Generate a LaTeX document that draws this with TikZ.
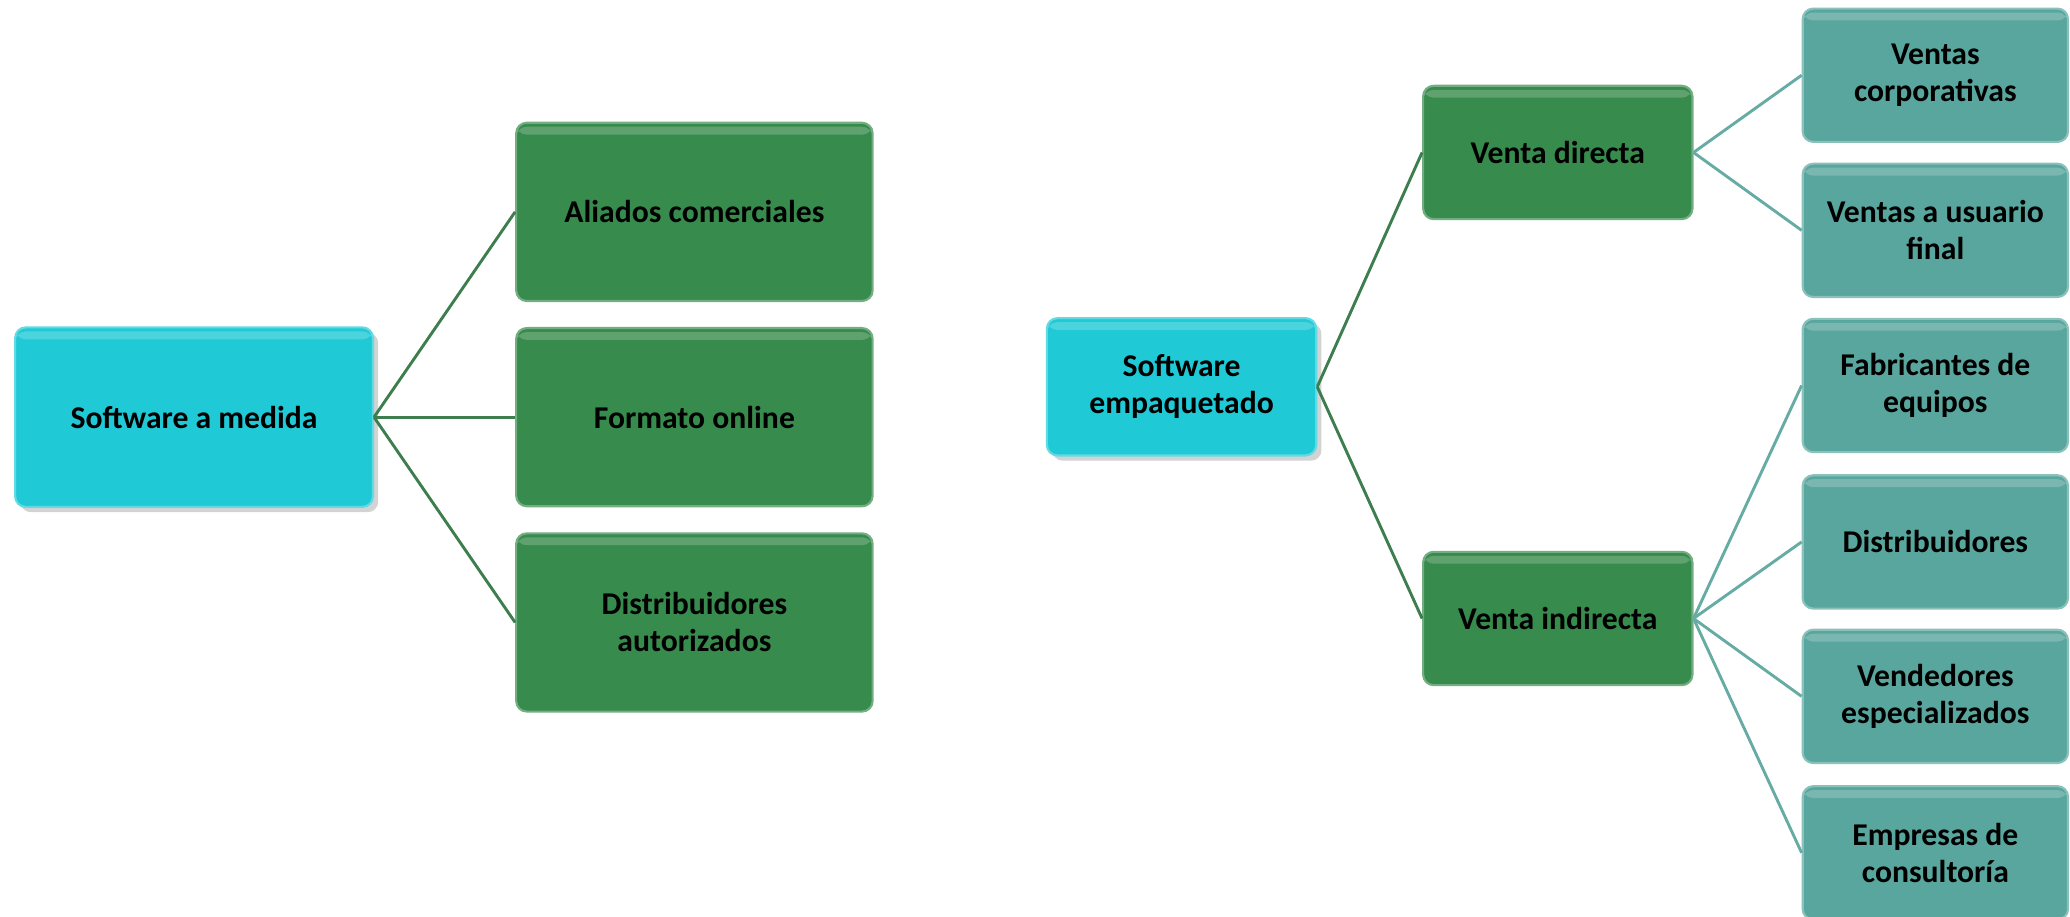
\documentclass[tikz,border=0pt]{standalone}
\usepackage{fontspec}
\setmainfont{Carlito}
\usetikzlibrary{shadows}
\definecolor{cyanbox}{HTML}{1FCAD6}
\definecolor{greenbox}{HTML}{378B4C}
\definecolor{tealbox}{HTML}{58A69D}
\definecolor{greenline}{HTML}{3E7E4E}
\definecolor{tealline}{HTML}{66ACA4}
\begin{document}
\begin{tikzpicture}[x=0.5pt,y=-0.5pt,
    box/.style={rounded corners=4pt, draw=#1!70!white, line width=0.8pt, fill=#1,
      align=center, inner sep=2pt, text=black,
      font=\fontsize{12}{14}\selectfont\bfseries,
      path picture={\fill[white,opacity=.2] ([yshift=-1.5pt]path picture bounding box.north west) rectangle ([yshift=-4.5pt]path picture bounding box.north east);}},
    rootbox/.style={box=cyanbox, drop shadow={opacity=.35, shadow xshift=2pt, shadow yshift=-2pt}},
    bigbox/.style={box=greenbox, minimum width=135pt, minimum height=67.5pt},
    midbox/.style={box=greenbox, minimum width=102pt, minimum height=50.5pt},
    leafbox/.style={box=tealbox, minimum width=100.5pt, minimum height=50.5pt},
    glink/.style={draw=greenline, line width=1.1pt},
    tlink/.style={draw=tealline, line width=1.1pt}]
    \useasboundingbox (0,0) rectangle (1568,694);

    % software a medida
    \node[rootbox, minimum width=135.5pt, minimum height=68pt] (medida) at (147,316) {Software a medida};
    \node[bigbox] (aliados) at (526,160.5) {Aliados comerciales};
    \node[bigbox] (formato) at (526,316) {Formato online};
    \node[bigbox] (autorizados) at (526,471.5) {Distribuidores\\autorizados};
    \foreach \n in {aliados,formato,autorizados}
        \draw[glink] (medida.east) -- (\n.west);

    % software empaquetado
    \node[rootbox, minimum width=102pt, minimum height=52pt] (empaquetado) at (895,293) {Software\\empaquetado};
    \node[midbox] (directa) at (1180,115.5) {Venta directa};
    \node[midbox] (indirecta) at (1180,468.5) {Venta indirecta};
    \draw[glink] (empaquetado.east) -- (directa.west);
    \draw[glink] (empaquetado.east) -- (indirecta.west);

    \node[leafbox] (corporativas) at (1466,57) {Ventas\\corporativas};
    \node[leafbox] (usuario) at (1466,174.5) {Ventas a usuario\\final};
    \node[leafbox] (fabricantes) at (1466,292) {Fabricantes de\\equipos};
    \node[leafbox] (distribuidores) at (1466,410.5) {Distribuidores};
    \node[leafbox] (vendedores) at (1466,527.5) {Vendedores\\especializados};
    \node[leafbox] (consultoria) at (1466,646) {Empresas de\\consultoría};
    \foreach \n in {corporativas,usuario}
        \draw[tlink] (directa.east) -- (\n.west);
    \foreach \n in {fabricantes,distribuidores,vendedores,consultoria}
        \draw[tlink] (indirecta.east) -- (\n.west);
\end{tikzpicture}
\end{document}
